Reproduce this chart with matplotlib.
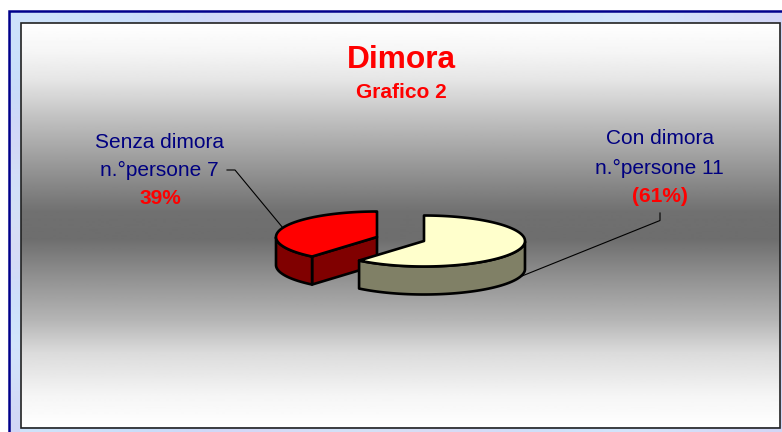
import numpy as np
import matplotlib
matplotlib.use("Agg")
import matplotlib.pyplot as plt
from matplotlib.patches import Polygon, Rectangle

plt.rcParams["font.family"] = ["Liberation Sans", "DejaVu Sans"]

title = "Dimora"
subtitle = "Grafico 2"
categories = ["Con dimora", "Senza dimora"]
people = [11, 7]
percent_labels = ["(61%)", "39%"]
top_colors = ["#FFFFCC", "#FF0000"]
side_colors = ["#808066", "#800000"]
border_tints = ["#CFE3FB", "#C5DDFA", "#D8D4F6", "#CFE6F8", "#DCD8F4", "#C9E0FB", "#D6E8FC", "#D2D6F6"]
# panel brightness read down a column of the picture
shade_rows = [23, 53, 80, 120, 170, 212, 238, 275, 320, 353, 395, 427]
shade_values = [1.0, 0.96, 0.90, 0.75, 0.58, 0.44, 0.43, 0.56, 0.71, 0.86, 0.96, 1.0]

NAVY = "#000080"
RX, RY, DEPTH = 101, 25.5, 28
# apex of each slice, the two pieces are exploded apart
centers = [(424, 241), (377, 237)]


def ellipse_point(cx, cy, angle):
    # angle in degrees, clockwise from 12 o'clock
    a = np.radians(angle)
    return cx + RX * np.sin(a), cy - RY * np.cos(a)


def draw_slice(ax, center, start, end, top_color, side_color, cut_face=False):
    cx, cy = center
    angles = np.linspace(start, end, 160)
    xs, ys = ellipse_point(cx, cy, angles)
    style = dict(ec="black", lw=1.9, joinstyle="round", zorder=3)

    # flat cut face, seen only on the slice whose edge looks at the viewer
    if cut_face:
        sx, sy = ellipse_point(cx, cy, start)
        face = [(sx, sy), (cx, cy), (cx, cy + DEPTH), (sx, sy + DEPTH)]
        ax.add_patch(Polygon(face, closed=True, fc=side_color, **style))

    # outer wall, only the part facing the viewer
    front = angles[(angles >= 90) & (angles <= 270)]
    if len(front):
        fx, fy = ellipse_point(cx, cy, front)
        wall = list(zip(fx, fy)) + list(zip(fx[::-1], fy[::-1] + DEPTH))
        ax.add_patch(Polygon(wall, closed=True, fc=side_color, **style))

    top = [(cx, cy)] + list(zip(xs, ys))
    ax.add_patch(Polygon(top, closed=True, fc=top_color, **style))


fig = plt.figure(figsize=(7.82, 4.32), dpi=100, facecolor="white")
ax = fig.add_axes([0, 0, 1, 1])
ax.axis("off")

# pale blue frame behind the panel
tint_row = np.array([matplotlib.colors.to_rgb(c) for c in border_tints])[None, :, :]
ax.imshow(tint_row, extent=[9, 782, 432, 11], aspect="auto", interpolation="bicubic", zorder=0)
ax.imshow(tint_row.transpose(1, 0, 2), extent=[9, 20, 432, 11], aspect="auto", interpolation="bicubic", zorder=0)
ax.plot([9, 9, 782], [432, 11, 11], color="#00008B", lw=1.8, zorder=1, solid_joinstyle="miter")

# grey band of the panel
rows = np.linspace(23, 427, 405)
v = np.interp(rows, shade_rows, shade_values)
ax.imshow(v[:, None], extent=[21, 780, 427, 23], cmap="gray", vmin=0, vmax=1, aspect="auto", zorder=1)
ax.add_patch(Rectangle((20.5, 22.5), 759.5, 405, fc="none", ec="#222222", lw=1.2, zorder=2))
ax.set_xlim(0, 782)
ax.set_ylim(432, 0)

# slices start at 12 o'clock and run clockwise, sized from the values
total = sum(people)
start = 0
spans = []
for p in people:
    spans.append((start, start + 360 * p / total))
    start += 360 * p / total

draw_slice(ax, centers[1], spans[1][0], spans[1][1], top_colors[1], side_colors[1], cut_face=True)
draw_slice(ax, centers[0], spans[0][0], spans[0][1], top_colors[0], side_colors[0])

# leader lines
ax.plot([227, 235, 283], [170, 170, 228], color="black", lw=0.8, zorder=2)
ax.plot([522, 660, 660], [276, 220.5, 213], color="black", lw=0.8, zorder=2)

# labels
ax.text(401, 60, title, color="red", fontsize=22.8, fontweight="bold", ha="center", va="center", zorder=4)
ax.text(401, 92, subtitle, color="red", fontsize=15, fontweight="bold", ha="center", va="center", zorder=4)

ax.text(159.5, 142, categories[1], color=NAVY, fontsize=15, ha="center", va="center", zorder=4)
ax.text(159, 170, "n.°persone %d" % people[1], color=NAVY, fontsize=15, ha="center", va="center", zorder=4)
ax.text(160, 199, percent_labels[1], color="red", fontsize=15, fontweight="bold", ha="center", va="center", zorder=4)

ax.text(659.5, 139, categories[0], color=NAVY, fontsize=15, ha="center", va="center", zorder=4)
ax.text(659, 168, "n.°persone %d" % people[0], color=NAVY, fontsize=15, ha="center", va="center", zorder=4)
ax.text(660, 196, percent_labels[0], color="red", fontsize=15, fontweight="bold", ha="center", va="center", zorder=4)

fig.savefig("out.png", dpi=100)
